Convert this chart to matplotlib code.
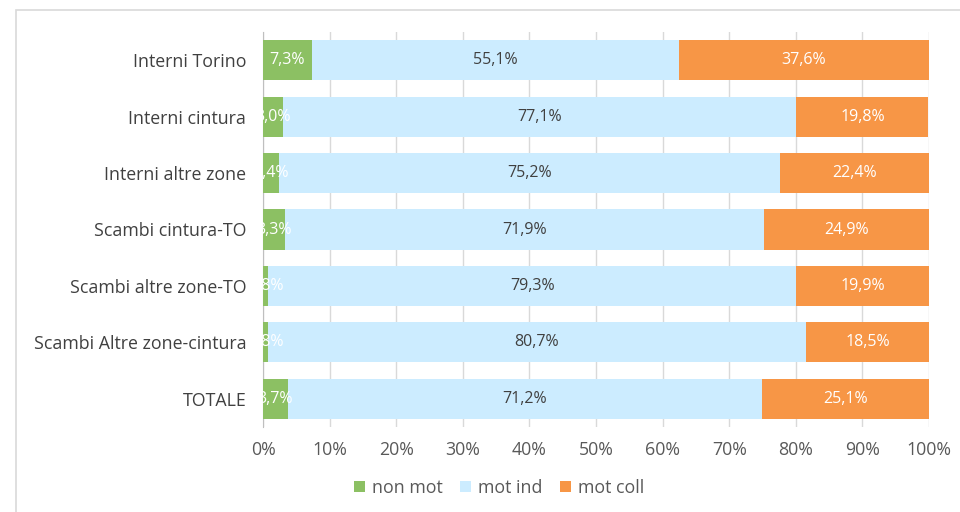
import matplotlib.pyplot as plt
from matplotlib.patches import Rectangle

plt.rcParams['font.family'] = ['Open Sans', 'DejaVu Sans']

categories = ['Interni Torino', 'Interni cintura', 'Interni altre zone',
              'Scambi cintura-TO', 'Scambi altre zone-TO',
              'Scambi Altre zone-cintura', 'TOTALE']
non_mot = [7.3, 3.0, 2.4, 3.3, 0.8, 0.8, 3.7]
mot_ind = [55.1, 77.1, 75.2, 71.9, 79.3, 80.7, 71.2]
mot_coll = [37.6, 19.8, 22.4, 24.9, 19.9, 18.5, 25.1]
series_names = ['non mot', 'mot ind', 'mot coll']
colors = ['#8CC063', '#CCECFF', '#F79646']
text_colors = ['white', '#404040', 'white']

fig = plt.figure(figsize=(9.6, 5.12), dpi=100)
ax = fig.add_axes([263 / 960, 1 - 427 / 512, 666 / 960, 395 / 512])

# outer chart frame
fig.add_artist(Rectangle((16 / 960, -0.1), 1.1, 1 - 10 / 512 + 0.1,
                         transform=fig.transFigure, fill=False,
                         edgecolor='#D9D9D9', lw=1.2))

y = list(range(len(categories)))
left = [0] * len(categories)
for vals, name, col, tcol in zip([non_mot, mot_ind, mot_coll], series_names, colors, text_colors):
    bars = ax.barh(y, vals, left=left, height=0.71, color=col, label=name, zorder=3)
    for b, v, l in zip(bars, vals, left):
        ax.text(l + v / 2, b.get_y() + b.get_height() / 2, f'{v:.1f}%'.replace('.', ','),
                ha='center', va='center', color=tcol, fontsize=11.5, zorder=4)
    left = [a + b for a, b in zip(left, vals)]

ax.set_xlim(0, 100)
ax.set_ylim(len(categories) - 0.5, -0.5)
ax.set_yticks(y)
ax.set_yticklabels(categories, fontsize=12.8, color='#404040')
ax.set_xticks(range(0, 101, 10))
ax.set_xticklabels([f'{t}%' for t in range(0, 101, 10)], fontsize=12.8, color='#595959')
ax.tick_params(axis='y', length=0, pad=12)
ax.tick_params(axis='x', length=0, pad=10)
ax.grid(axis='x', color='#D9D9D9', lw=1, zorder=0)
for s in ['top', 'right', 'bottom']:
    ax.spines[s].set_visible(False)
ax.spines['left'].set_color('#BFBFBF')

fig.legend(loc='center', bbox_to_anchor=(499 / 960, 1 - 488 / 512), ncol=3, frameon=False,
           fontsize=12.8, handlelength=0.6, handleheight=0.6, handletextpad=0.4,
           columnspacing=1.0, labelcolor='#595959')

fig.savefig('out.png', dpi=100)
